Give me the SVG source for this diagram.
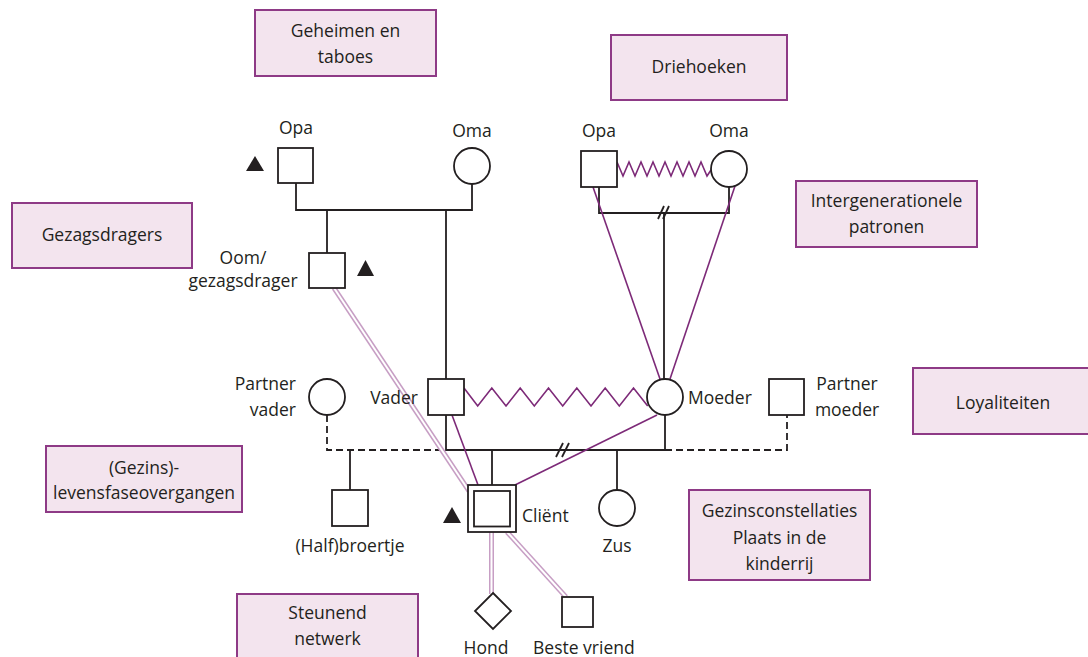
<svg xmlns="http://www.w3.org/2000/svg" width="1088" height="657" viewBox="0 0 1088 657">
<style>
text{font-family:"Open Sans","Noto Sans","Liberation Sans",sans-serif;font-size:17.5px;fill:#231f20}
.c{text-anchor:middle}
.e{text-anchor:end}
.box{fill:#f3e4ee;stroke:#8e3a86;stroke-width:2}
.n{fill:#fff;stroke:#231f20;stroke-width:1.8}
.l{fill:none;stroke:#231f20;stroke-width:1.8}
.d{fill:none;stroke:#231f20;stroke-width:1.8;stroke-dasharray:7 4}
.p{fill:none;stroke:#7d2a78;stroke-width:1.6}
.dbl{fill:none;stroke:#c79ec4;stroke-width:5}
.dblw{fill:none;stroke:#fff;stroke-width:2}
.tri{fill:#231f20}
</style>
<rect width="1088" height="657" fill="#fff"/>

<g id="themes">
<g id="t-geheimen"><rect class="box" x="255" y="10" width="181" height="66"/><text class="c" x="345.5" y="37">Geheimen en</text><text class="c" x="345.5" y="63">taboes</text></g>
<g id="t-driehoeken"><rect class="box" x="611" y="35" width="176" height="65"/><text class="c" x="699" y="73">Driehoeken</text></g>
<g id="t-intergen"><rect class="box" x="796" y="181" width="181" height="66"/><text class="c" x="886.5" y="207">Intergenerationele</text><text class="c" x="886.5" y="233">patronen</text></g>
<g id="t-gezag"><rect class="box" x="12" y="203" width="180" height="65"/><text class="c" x="102" y="241">Gezagsdragers</text></g>
<g id="t-loyal"><rect class="box" x="913" y="368" width="180" height="66"/><text class="c" x="1003" y="409">Loyaliteiten</text></g>
<g id="t-levens"><rect class="box" x="46" y="446" width="196" height="66"/><text class="c" x="144" y="474">(Gezins)-</text><text class="c" x="144" y="499">levensfaseovergangen</text></g>
<g id="t-constel"><rect class="box" x="689" y="490" width="181" height="90"/><text class="c" x="779.5" y="517">Gezinsconstellaties</text><text class="c" x="779.5" y="544">Plaats in de</text><text class="c" x="779.5" y="570">kinderrij</text></g>
<g id="t-steun"><rect class="box" x="237" y="594" width="181" height="70"/><text class="c" x="327.5" y="619">Steunend</text><text class="c" x="327.5" y="645">netwerk</text></g>
</g>

<g id="connectors">
<polyline class="l" points="296,183 296,210 472,210 472,184"/>
<line class="l" x1="327" y1="210" x2="327" y2="253"/>
<line class="l" x1="446" y1="210" x2="446" y2="379"/>
<polyline class="l" points="599,187 599,213 729,213 729,187"/>
<line class="l" x1="664" y1="213" x2="664" y2="379"/>
<line class="l" x1="658" y1="219" x2="664" y2="206"/>
<line class="l" x1="663" y1="219" x2="669" y2="206"/>
<polyline class="p" points="617,162 623,176 629,162 635,176 641,162 647,176 653,162 659,176 665,162 671,176 677,162 683,176 689,162 695,176 701,162 707,176 711,170"/>
<line class="p" x1="593" y1="187" x2="660" y2="379"/>
<line class="p" x1="735" y1="186" x2="670" y2="379"/>
<polyline class="p" points="464,388 477.7,406 491.8,388 506,406 520.2,388 534.3,406 548.5,388 562.7,406 576.8,388 591,406 605.2,388 619.3,406 633.5,388 647.7,406"/>
<polyline class="l" points="446,415 446,450 665,450 665,415"/>
<line class="l" x1="556" y1="457" x2="563" y2="443"/>
<line class="l" x1="562" y1="457" x2="569" y2="443"/>
<polyline class="d" points="327,415 327,450 446,450"/>
<polyline class="d" points="665,450 787,450 787,415"/>
<line class="l" x1="350" y1="450" x2="350" y2="490"/>
<line class="l" x1="492" y1="450" x2="492" y2="485"/>
<line class="l" x1="617" y1="450" x2="617" y2="490"/>
<line class="dbl" x1="334" y1="288" x2="469" y2="491"/>
<line class="dblw" x1="334" y1="288" x2="469" y2="491"/>
<line class="dbl" x1="491.5" y1="532" x2="491.5" y2="594"/>
<line class="dblw" x1="491.5" y1="532" x2="491.5" y2="594"/>
<line class="dbl" x1="507" y1="532" x2="566" y2="597"/>
<line class="dblw" x1="507" y1="532" x2="566" y2="597"/>
<line class="p" x1="452" y1="415" x2="478" y2="485"/>
<line class="p" x1="657" y1="415" x2="515" y2="485"/>
</g>

<g id="n-opa1"><rect class="n" x="278" y="148" width="35" height="35"/><polygon class="tri" points="246,171 264,171 255,156"/><text class="c" x="296" y="134">Opa</text></g>
<g id="n-oma1"><circle class="n" cx="472" cy="166" r="18"/><text class="c" x="472" y="137">Oma</text></g>
<g id="n-opa2"><rect class="n" x="581" y="151" width="36" height="36"/><text class="c" x="599" y="137">Opa</text></g>
<g id="n-oma2"><circle class="n" cx="729" cy="169" r="18"/><text class="c" x="729" y="137">Oma</text></g>
<g id="n-oom"><rect class="n" x="309" y="253" width="36" height="35"/><polygon class="tri" points="357,276 374,276 365.5,260"/><text class="c" x="243" y="264">Oom/</text><text class="c" x="243" y="287">gezagsdrager</text></g>
<g id="n-partnervader"><circle class="n" cx="327" cy="397" r="18"/><text class="e" x="296" y="390">Partner</text><text class="e" x="296" y="416">vader</text></g>
<g id="n-vader"><rect class="n" x="428" y="379" width="36" height="36"/><text class="e" x="418" y="404">Vader</text></g>
<g id="n-moeder"><circle class="n" cx="665" cy="397" r="18"/><text x="688" y="404">Moeder</text></g>
<g id="n-partnermoeder"><rect class="n" x="769" y="379" width="35" height="36"/><text class="c" x="847" y="390">Partner</text><text class="c" x="847" y="416">moeder</text></g>
<g id="n-halfbroertje"><rect class="n" x="332" y="490" width="36" height="36"/><text class="c" x="350" y="552">(Half)broertje</text></g>
<g id="n-client"><rect class="n" x="468" y="485" width="48" height="47" stroke-width="2.2"/><rect class="n" x="474" y="491" width="36" height="35.5" stroke-width="1.6"/><polygon class="tri" points="443,523 461,523 452,507"/><text x="522" y="522">Cliënt</text></g>
<g id="n-zus"><circle class="n" cx="617" cy="508" r="18"/><text class="c" x="617" y="552">Zus</text></g>
<g id="n-hond"><polygon class="n" points="493,593 511,611 493,629 475,611"/><text class="c" x="486" y="654">Hond</text></g>
<g id="n-vriend"><rect class="n" x="562" y="597" width="31" height="30"/><text x="533" y="654">Beste vriend</text></g>
</svg>
